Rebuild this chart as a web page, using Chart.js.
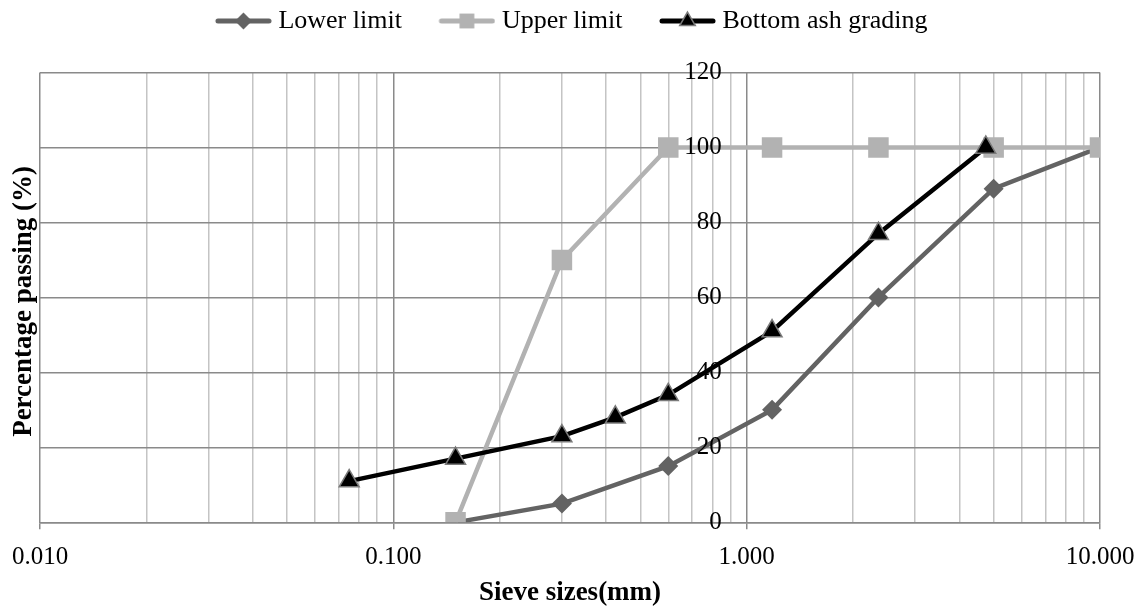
<!DOCTYPE html>
<html>
<head>
<meta charset="utf-8">
<title>Sieve grading</title>
<script src="https://cdn.jsdelivr.net/npm/chart.js@4/dist/chart.umd.min.js"></script>
<style>
  html, body { margin: 0; padding: 0; background: #fff; }
</style>
</head>
<body>
<canvas id="chart" width="1146" height="611"></canvas>
<script>
// --- data ---
const limitSieves = [0.15, 0.3, 0.6, 1.18, 2.36, 5, 10];
const lowerLimit = [0, 5, 15, 30, 60, 89, 100];
const upperLimit = [0, 70, 100, 100, 100, 100, 100];
const ashSieves = [0.075, 0.15, 0.3, 0.425, 0.6, 1.18, 2.36, 4.75];
const ashGrading = [11, 17, 23, 28, 34, 51, 77, 100];

const seriesNames = ['Lower limit', 'Upper limit', 'Bottom ash grading'];
const decadeTicks = [0.01, 0.1, 1, 10];
const yTicks = [0, 20, 40, 60, 80, 100, 120];
const xTitle = 'Sieve sizes(mm)';
const yTitle = 'Percentage passing (%)';

const FONT = "'Liberation Serif', 'Times New Roman', serif";
const MAJOR = '#8a8a8a';
const MINOR = '#c4c4c4';
const LOWER_C = '#636363';
const UPPER_C = '#b2b2b2';
// the value axis crosses at x = 1; labels sit ~25px left of it
const Y_LABEL_AT = 0.85;

Chart.defaults.font.family = FONT;
Chart.defaults.color = '#000';

const toPts = (xs, ys) => xs.map((x, i) => ({ x: x, y: ys[i] }));

// gridline positions of a log axis: 1..9 per decade
const logGrid = [];
decadeTicks.slice(0, -1).forEach(d => {
  for (let k = 1; k < 10; k++) logGrid.push(k * d);
});
logGrid.push(decadeTicks[decadeTicks.length - 1]);

const isDecade = v => Math.abs(Math.log10(v) - Math.round(Math.log10(v))) < 1e-9;

// legend icons: short line with a marker, like the spreadsheet legend
const BOX_W = 53;
const LEGEND_GAP = 34;
function legendIcon(color, style, radius, fill, border) {
  const c = document.createElement('canvas');
  c.width = BOX_W + 13;
  c.height = 24;
  const g = c.getContext('2d');
  const x0 = c.width - 57;
  g.strokeStyle = color;
  g.lineWidth = 5;
  g.lineCap = 'round';
  g.beginPath();
  g.moveTo(x0 + 3, 12);
  g.lineTo(c.width - 3, 12);
  g.stroke();
  g.fillStyle = fill;
  g.strokeStyle = border;
  g.lineWidth = 1.5;
  Chart.helpers.drawPoint(g, { pointStyle: style, radius: radius, borderWidth: border === fill ? 0 : 1.5 }, x0 + 28.5, 12);
  return c;
}
const icons = [
  legendIcon(LOWER_C, 'rectRot', 8.5, LOWER_C, LOWER_C),
  legendIcon(UPPER_C, 'rect', 10.5, UPPER_C, UPPER_C),
  legendIcon('#000', 'triangle', 9, '#000', '#7a7a7a')
];

const yTitlePlugin = {
  id: 'yTitle',
  afterDraw(chart) {
    const { ctx, chartArea } = chart;
    ctx.save();
    ctx.translate(24, (chartArea.top + chartArea.bottom) / 2 + 4);
    ctx.rotate(-Math.PI / 2);
    ctx.font = 'bold 27px ' + FONT;
    ctx.fillStyle = '#000';
    ctx.textAlign = 'center';
    ctx.textBaseline = 'middle';
    ctx.fillText(yTitle, 0, 0);
    ctx.restore();
  }
};

new Chart(document.getElementById('chart'), {
  type: 'line',
  data: {
    datasets: [{
      label: seriesNames[0],
      data: toPts(limitSieves, lowerLimit),
      borderColor: LOWER_C,
      backgroundColor: LOWER_C,
      borderWidth: 4.5,
      pointStyle: 'rectRot',
      pointRadius: 10,
      pointBorderWidth: 0,
      order: 2
    }, {
      label: seriesNames[1],
      data: toPts(limitSieves, upperLimit),
      borderColor: UPPER_C,
      backgroundColor: UPPER_C,
      borderWidth: 4.5,
      pointStyle: 'rect',
      pointRadius: 14.5,
      pointBorderWidth: 0,
      order: 1
    }, {
      label: seriesNames[2],
      data: toPts(ashSieves, ashGrading),
      borderColor: '#000',
      backgroundColor: '#000',
      borderWidth: 4.5,
      pointStyle: 'triangle',
      pointRadius: 11.5,
      pointBorderColor: '#7a7a7a',
      pointBorderWidth: 1.5,
      order: 0
    }]
  },
  options: {
    responsive: false,
    devicePixelRatio: 1,
    animation: false,
    layout: { padding: { left: 40, right: 46, top: -26, bottom: 0 } },
    plugins: {
      tooltip: { enabled: false },
      subtitle: { display: true, text: '', weight: 500, padding: { top: 0, bottom: 14 } },
      legend: {
        position: 'top',
        labels: {
          usePointStyle: true,
          pointStyleWidth: BOX_W,
          padding: LEGEND_GAP,
          font: { size: 26 },
          color: '#000',
          generateLabels: chart => Chart.defaults.plugins.legend.labels.generateLabels(chart)
            .sort((a, b) => a.datasetIndex - b.datasetIndex)
            .map(l => Object.assign(l, { pointStyle: icons[l.datasetIndex] }))
        }
      }
    },
    scales: {
      x: {
        type: 'logarithmic',
        position: 'bottom',
        min: decadeTicks[0],
        max: decadeTicks[decadeTicks.length - 1],
        afterBuildTicks: scale => { scale.ticks = logGrid.map(v => ({ value: v, major: isDecade(v) })); },
        ticks: {
          autoSkip: false,
          maxRotation: 0,
          padding: 10,
          font: { size: 25, lineHeight: 1.45 },
          color: '#000',
          callback: v => isDecade(v) ? v.toFixed(3) : ''
        },
        grid: {
          color: c => isDecade(c.tick.value) ? MAJOR : MINOR,
          tickColor: c => isDecade(c.tick.value) ? MAJOR : 'rgba(0,0,0,0)',
          tickLength: 7,
          lineWidth: 1.5
        },
        border: { color: MAJOR, width: 1.5 },
        title: {
          display: true,
          text: xTitle,
          font: { size: 27, weight: 'bold' },
          color: '#000',
          padding: { top: -9, bottom: 2 }
        }
      },
      y: {
        type: 'linear',
        position: { x: Y_LABEL_AT },
        min: yTicks[0],
        max: yTicks[yTicks.length - 1],
        afterBuildTicks: scale => { scale.ticks = yTicks.map(v => ({ value: v })); },
        ticks: {
          font: { size: 25 },
          color: '#000',
          z: 1
        },
        grid: { color: MAJOR, lineWidth: 1.5, drawTicks: false },
        border: { display: false }
      }
    }
  },
  plugins: [yTitlePlugin]
});
</script>
</body>
</html>
